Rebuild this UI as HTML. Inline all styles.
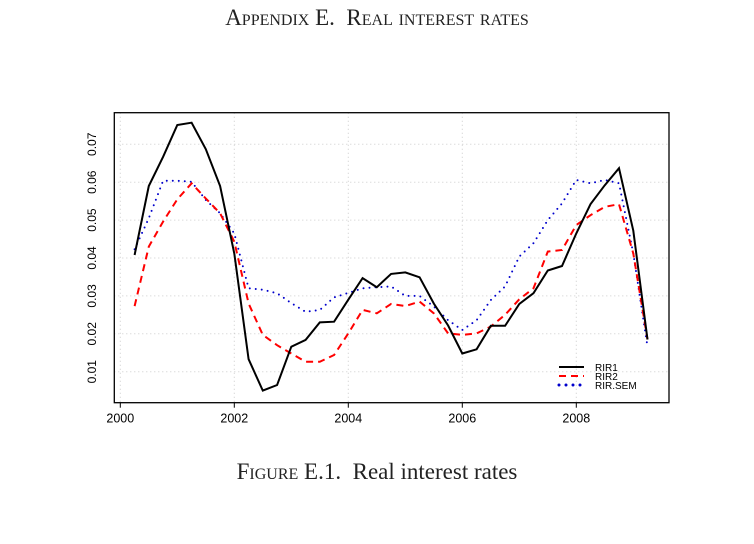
<!DOCTYPE html>
<html><head><meta charset="utf-8"><style>
body{margin:0;background:#fff;width:754px;height:544px;overflow:hidden;position:relative;font-family:"Liberation Serif",serif;}
.t{position:absolute;left:0;width:754px;text-align:center;color:#222;font-variant:small-caps;}
</style></head><body>
<div class="t" style="top:5px;font-size:23px;">Appendix E.&nbsp; Real interest rates</div>
<svg id="c" width="754" height="544" style="position:absolute;left:0;top:0"></svg>
<div class="t" style="top:459px;font-size:23px;">Figure E.1.&nbsp; <span style="font-variant:normal">Real interest rates</span></div>
<script>
const years=[2000,2002,2004,2006,2008];
const yTicks=[0.01,0.02,0.03,0.04,0.05,0.06,0.07];
const yTickLabels=["0.01","0.02","0.03","0.04","0.05","0.06","0.07"];
const startYear=2000.25;
const rir1=[0.0408,0.059,0.0667,0.0751,0.0757,0.0687,0.059,0.0412,0.0133,0.005,0.0065,0.0166,0.0184,0.023,0.0232,0.029,0.0347,0.0323,0.0358,0.0362,0.0349,0.028,0.0222,0.0148,0.0159,0.0221,0.0221,0.0279,0.0307,0.0367,0.0379,0.0465,0.0542,0.0592,0.0637,0.0472,0.0185];
const rir2=[0.0273,0.043,0.0496,0.0555,0.0597,0.0557,0.0518,0.0443,0.028,0.0197,0.017,0.0148,0.0126,0.0126,0.0144,0.0201,0.0263,0.0254,0.0279,0.0273,0.0285,0.0254,0.0201,0.0197,0.0201,0.0219,0.025,0.0291,0.032,0.0417,0.0421,0.0487,0.0513,0.0535,0.0542,0.0412,0.0185];
const rirSem=[0.0423,0.0505,0.0604,0.0604,0.0601,0.0553,0.0518,0.0465,0.032,0.0316,0.0307,0.0281,0.0258,0.0263,0.0296,0.0308,0.032,0.0323,0.0325,0.03,0.03,0.0272,0.0236,0.021,0.0236,0.0289,0.0325,0.0404,0.0439,0.05,0.0544,0.0606,0.0597,0.0606,0.0597,0.0412,0.0166];
const seriesNames=["RIR1","RIR2","RIR.SEM"];
const X=v=>120.3+(v-2000)*57;
const Y=v=>371.7-(v-0.01)*3790;
const svg=document.getElementById('c');
const NS='http://www.w3.org/2000/svg';
function mk(t,a,p){const e=document.createElementNS(NS,t);for(const k in a)e.setAttribute(k,a[k]);(p||svg).appendChild(e);return e;}
const L=114.3,R=669,T=112.7,B=402.7;
years.forEach(y=>{const g=mk('line',{x1:X(y),x2:X(y),y1:T,y2:B,stroke:'#ccc','stroke-dasharray':'1 3'});

});
yTicks.forEach(v=>{const g=mk('line',{x1:L,x2:R,y1:Y(v),y2:Y(v),stroke:'#ccc','stroke-dasharray':'1 3'});

});
const box=mk('rect',{x:L,y:T,width:R-L,height:B-T,fill:'none',stroke:'#000','stroke-width':1.3});


years.forEach(y=>{mk('line',{x1:X(y),x2:X(y),y1:B,y2:B+5,stroke:'#000'});
const t=mk('text',{x:X(y),y:B+20,'text-anchor':'middle','font-size':12.5,'font-family':'Liberation Sans, sans-serif'});t.textContent=y;

});
yTicks.forEach((v,i)=>{const t=mk('text',{x:0,y:0,'text-anchor':'middle','font-size':12,'font-family':'Liberation Sans, sans-serif',transform:`translate(96,${Y(v)}) rotate(-90)`});t.textContent=yTickLabels[i];

});
function path(arr){return arr.map((v,i)=>(i?'L':'M')+X(startYear+i*0.25).toFixed(1)+' '+Y(v).toFixed(1)).join(' ');}
const s3=mk('path',{d:path(rirSem),fill:'none',stroke:'#0000cc','stroke-width':2,'stroke-dasharray':'0 6','stroke-linecap':'round'});


const s2=mk('path',{d:path(rir2),fill:'none',stroke:'#ff0000','stroke-width':2,'stroke-dasharray':'7 5'});


const s1=mk('path',{d:path(rir1),fill:'none',stroke:'#000','stroke-width':2});


const styles=[{stroke:'#000'},{stroke:'#ff0000','stroke-dasharray':'7 5'},{stroke:'#0000cc','stroke-dasharray':'0 7','stroke-linecap':'round','stroke-width':3}];
seriesNames.forEach((n,i)=>{const yy=367+i*9;
const g=mk('g',{});

mk('line',Object.assign({x1:559,x2:584,y1:yy,y2:yy,'stroke-width':2},styles[i]),g);
const t=mk('text',{x:595,y:yy+4,'font-size':10,'font-family':'Liberation Sans, sans-serif'},g);t.textContent=n;});
</script>
</body></html>
